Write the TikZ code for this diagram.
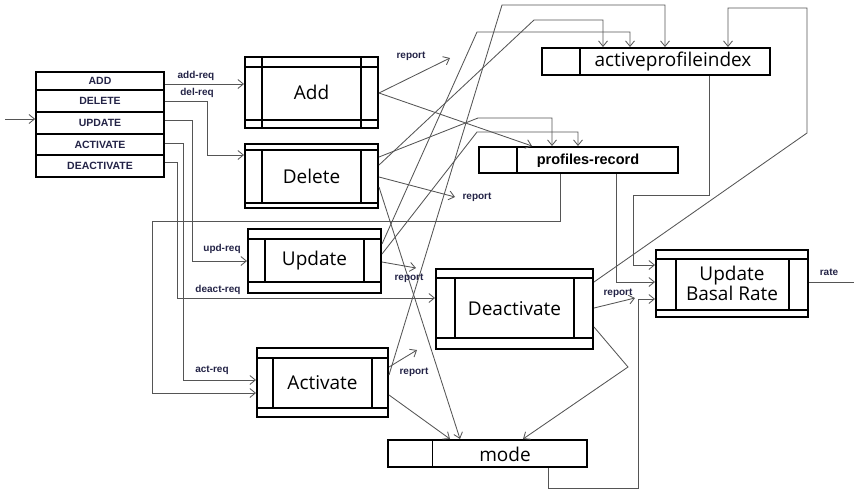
\documentclass[tikz,border=0pt]{standalone}
\usepackage{fontspec}
\setmainfont{Open Sans}
\newfontfamily\labfont{Liberation Sans}
\usetikzlibrary{arrows.meta,calc}
\definecolor{wirecol}{RGB}{85,85,85}
\definecolor{labcol}{RGB}{35,35,70}
\newcommand\pinner[8]{%
  \draw[boxline] (#1,#3) -- (#2,#3) (#1,#4) -- (#2,#4) (#5,#7) -- (#5,#8) (#6,#7) -- (#6,#8);}
\tikzset{
  boxline/.style={draw=black, line width=2pt},
  wire/.style={draw=wirecol, line width=0.85pt, -{Straight Barb[length=5.5pt,width=9pt]}},
  plainwire/.style={draw=wirecol, line width=0.85pt},
  lbl/.style={font=\labfont\bfseries\fontsize{10}{12}\selectfont, text=labcol, inner sep=0pt},
  proc/.style={draw=black, line width=2pt, inner sep=0pt, align=center, font=\fontsize{19}{20}\selectfont},
  store/.style={draw=black, line width=2pt, inner sep=0pt},
  storetext/.style={inner sep=0pt, font=\fontsize{19}{20}\selectfont},
  menuitem/.style={draw=black, line width=1.7pt, inner sep=0pt, minimum width=128pt, font=\labfont\bfseries\fontsize{10.5}{12}\selectfont, text=labcol}
}
\begin{document}
\begin{tikzpicture}[x=1pt,y=-1pt]
\useasboundingbox (0,0) rectangle (854,491);
% menu
\node[menuitem, minimum height=18pt] (madd) at (100,81) {ADD};
\node[menuitem, minimum height=22pt] (mdel) at (100,101) {DELETE};
\node[menuitem, minimum height=22pt] (mupd) at (100,123) {UPDATE};
\node[menuitem, minimum height=21pt] (mact) at (100,144.5) {ACTIVATE};
\node[menuitem, minimum height=22pt] (mdeact) at (100,166) {DEACTIVATE};
% process boxes
\node[proc, minimum width=133pt, minimum height=71pt] (add) at (311.5,92.5) {Add};
\pinner{245}{378}{67}{120}{262}{361}{57}{128}
\node[proc, minimum width=133pt, minimum height=64pt] (del) at (311.5,176) {Delete};
\pinner{245}{378}{150}{203}{262}{361}{150}{203}
\node[proc, minimum width=133pt, minimum height=64pt] (upd) at (314.5,261) {Update};
\pinner{248}{381}{239}{282}{265}{364}{239}{282}
\node[proc, minimum width=131pt, minimum height=69pt] (act) at (322.5,382.5) {Activate};
\pinner{257}{388}{358}{408}{273}{372}{358}{408}
\node[proc, minimum width=157pt, minimum height=80pt] (deact) at (514.5,309) {Deactivate};
\pinner{436}{593}{278}{338}{455}{574}{278}{338}
\node[proc, minimum width=152pt, minimum height=67pt] (ubr) at (732,283.5) {Update\\Basal Rate};
\pinner{656}{808}{259}{310}{676}{789}{259}{310}
% data stores
\node[store, minimum width=228pt, minimum height=27pt] (api) at (656,61.5) {};
\draw[boxline] (580,48) -- (580,75);
\node[storetext] (apit) at (673,62) {activeprofileindex};
\node[store, minimum width=199pt, minimum height=26pt] (pr) at (578.5,160) {};
\draw[boxline] (517,147) -- (517,173);
\node[storetext, font=\labfont\bfseries\fontsize{14.5}{16}\selectfont] (prt) at (588,161) {profiles-record};
\node[store, minimum width=199pt, minimum height=27pt] (mode) at (487.5,453.5) {};
\draw[black, line width=1pt] (432,440) -- (432,467);
\node[storetext] (modet) at (505,454) {mode};
% input
\coordinate (in) at (5,119);
\draw[wire] (in) -- (in -| mupd.west);
% requests
\draw[wire] (madd.east |- 0,84) -- (add.west |- 0,84);
\draw[wire] (mdel.east |- 0,101) -| (207,155) -- (del.west |- 0,155);
\draw[wire] (mupd.east |- 0,120) -| (192,261) -- (upd.west |- 0,261);
\draw[wire] (mact.east |- 0,143) -| (183,380) -- (act.west |- 0,380);
\draw[wire] (mdeact.east |- 0,162) -| (177,298) -- (deact.west |- 0,298);
\draw[wire] (pr.south -| 560,0) -- (560,221) -| (152,393) -- (act.west |- 0,393);
\node[lbl] (l-addreq) at (196,76) {add-req};
\node[lbl] (l-delreq) at (197,93) {del-req};
\node[lbl] (l-updreq) at (222,249) {upd-req};
\node[lbl] (l-deactreq) at (218,290) {deact-req};
\node[lbl] (l-actreq) at (212,370) {act-req};
% Add
\coordinate (radd) at (450,58);
\draw[wire] (add.east |- 0,93) -- (radd);
\draw[wire] (add.east |- 0,93) -- (pr.north -| 532,0);
\node[lbl] (l-radd) at (411,56) {report};
% Delete
\draw[wire] (del.east |- 0,157) -- (478,118) -| (pr.north -| 552,0);
\draw[wire] (del.east |- 0,165) -- (534,20) -| (api.north -| 603,0);
\coordinate (rdel) at (455,197);
\draw[wire] (del.east |- 0,177) -- (rdel);
\node[lbl] (l-rdel) at (477,197) {report};
\draw[wire] (del.east |- 0,187) -- (mode.north -| 460,0);
% Update
\draw[wire] (upd.east |- 0,244) -- (477,32) -| (api.north -| 630,0);
\draw[wire] (upd.east |- 0,254) -- (477,132) -| (pr.north -| 578,0);
\coordinate (rupd) at (416,268);
\draw[wire] (upd.east |- 0,262) -- (rupd);
\node[lbl] (l-rupd) at (409,278) {report};
% Activate
\draw[wire] (act.east |- 0,375) -- (502,5) -| (api.north -| 665,0);
\coordinate (ract) at (417,350);
\draw[wire] (act.east |- 0,367) -- (ract);
\node[lbl] (l-ract) at (414,372) {report};
\draw[wire] (act.east |- 0,395) -- (mode.north -| 450,0);
% Deactivate
\draw[wire] (deact.east |- 0,282) -- (807,133) |- (728,8) -- (api.north -| 728,0);
\coordinate (rdeact) at (635,298);
\draw[wire] (deact.east |- 0,308) -- (rdeact);
\node[lbl] (l-rdeact) at (618,293) {report};
\draw[wire] (deact.east |- 0,327) -- (628,367) -- (mode.north -| 523,0);
% into Update Basal Rate
\draw[wire] (api.south -| 709,0) -- (709,195) -| (633,265) -- (ubr.west |- 0,265);
\draw[wire] (pr.south -| 616,0) |- (ubr.west |- 0,282);
\draw[wire] (mode.south -| 548,0) |- (638,488) |- (ubr.west |- 0,299);
% rate
\coordinate (rateout) at (854,282);
\draw[plainwire] (ubr.east |- 0,282) -- (rateout);
\node[lbl] (l-rate) at (829,272) {rate};
\end{tikzpicture}
\end{document}
